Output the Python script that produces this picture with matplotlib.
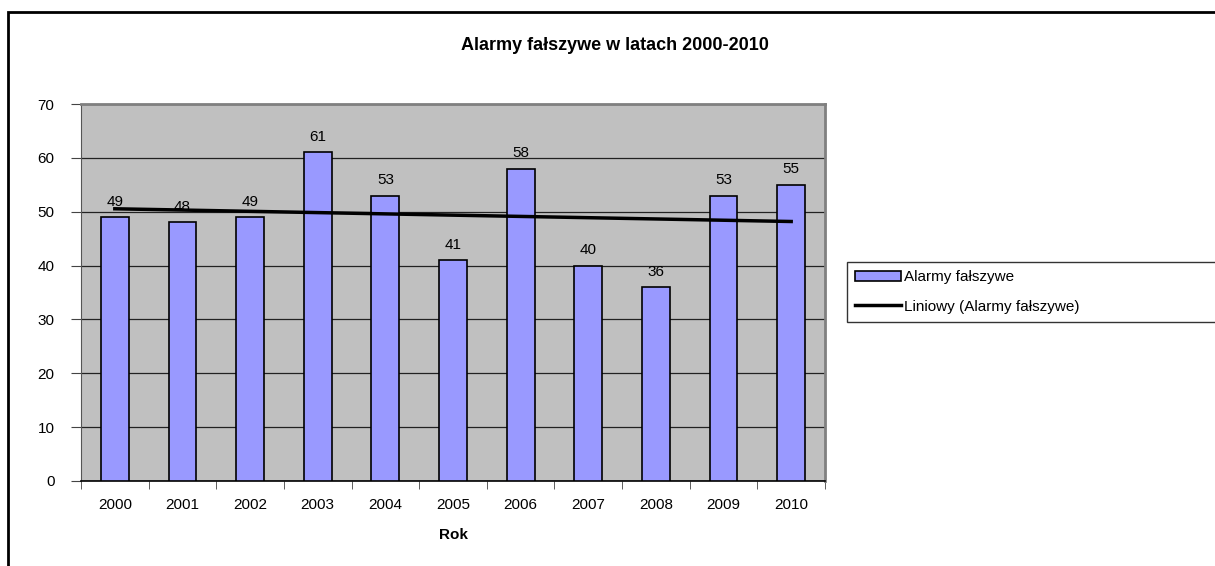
import numpy as np
import matplotlib
matplotlib.use('Agg')
import matplotlib.pyplot as plt
from matplotlib.patches import Rectangle
from matplotlib.lines import Line2D

plt.rcParams['font.family'] = ['Liberation Sans', 'DejaVu Sans']

years = ['2000', '2001', '2002', '2003', '2004', '2005', '2006', '2007', '2008', '2009', '2010']
alarms = [49, 48, 49, 61, 53, 41, 58, 40, 36, 53, 55]
yticks = [0, 10, 20, 30, 40, 50, 60, 70]

W, H = 1215, 566
fig = plt.figure(figsize=(W / 100, H / 100), dpi=100)
ax = fig.add_axes([81 / W, 1 - 481 / H, (825 - 81) / W, (481 - 104) / H])

x = np.arange(len(years))
ax.set_facecolor('#C0C0C0')
ax.bar(x, alarms, width=0.41, color='#9999FF', edgecolor='black', linewidth=1.2, zorder=3)

# linear trend, like Excel "Liniowy"
a, b = np.polyfit(x, alarms, 1)
ax.plot(x, a * x + b, color='black', linewidth=2.5, zorder=4)

for xi, v in zip(x, alarms):
    ax.annotate(str(v), (xi, v), xytext=(0, 6), textcoords='offset points',
                ha='center', va='bottom', fontsize=11)

ax.set_xlim(-0.5, len(years) - 0.5)
ax.set_ylim(0, 70)
ax.set_yticks(yticks)
ax.set_yticklabels([str(t) for t in yticks], fontsize=11)
ax.yaxis.grid(True, color='#222222', linewidth=0.9, zorder=1)
ax.set_axisbelow(True)

ax.set_xticks(x)
ax.set_xticklabels(years, fontsize=11)
ax.tick_params(axis='x', length=0, pad=12)
ax.set_xticks(np.arange(-0.5, len(years)), minor=True)
ax.tick_params(axis='x', which='minor', length=6, direction='out', color='#444444')
ax.tick_params(axis='y', length=7, direction='out', pad=12, color='#444444')

for s in ['top', 'right']:
    ax.spines[s].set_color('#808080')
    ax.spines[s].set_linewidth(2)
ax.spines['left'].set_color('#555555')
ax.spines['bottom'].set_color('black')
ax.spines['bottom'].set_linewidth(1.2)

ax.set_xlabel('Rok', fontsize=11, fontweight='bold', labelpad=12)
fig.text(615 / W, 1 - 45 / H, 'Alarmy fałszywe w latach 2000-2010', ha='center', va='center',
         fontsize=13, fontweight='bold')

# chart border
fig.patches.append(Rectangle((8 / W, -0.05), 1.1, 1 - 12 / H + 0.05, transform=fig.transFigure,
                             fill=False, edgecolor='black', linewidth=2, clip_on=False))

handles = [Rectangle((0, 0), 1, 1, facecolor='#9999FF', edgecolor='black', linewidth=1.2),
           Line2D([], [], color='black', linewidth=2.5)]
leg = fig.legend(handles, ['Alarmy fałszywe', 'Liniowy (Alarmy fałszywe)'],
                 loc='upper left', bbox_to_anchor=(847 / W, 1 - 324 / H, (1220 - 847) / W, 62 / H),
                 mode='expand', fontsize=11,
                 frameon=True, fancybox=False, borderpad=0.55, handlelength=3.0,
                 handletextpad=0.15, labelspacing=1.0, borderaxespad=0)
leg.get_frame().set_edgecolor('black')
leg.get_frame().set_linewidth(1)

fig.savefig('out.png', dpi=100)
